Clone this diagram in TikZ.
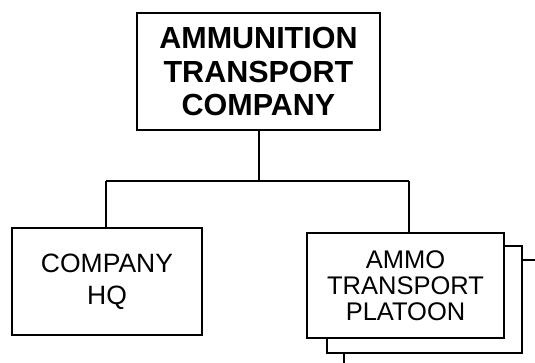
\documentclass[tikz,border=0pt]{standalone}
\usepackage{fontspec}
\setmainfont{Liberation Sans}
\begin{document}
\begin{tikzpicture}[x=1pt,y=-1pt,
  box/.style={draw=black, line width=2pt, fill=white, align=center, inner sep=0pt},
  conn/.style={draw=black, line width=2pt}]
\useasboundingbox (0,0) rectangle (535,363);
% top box
\node[box, minimum width=243pt, minimum height=117pt,
  font=\fontsize{30.5}{33.5}\selectfont\bfseries] (top) at (258.5,72)
  {AMMUNITION\\TRANSPORT\\COMPANY};
% company HQ
\node[box, minimum width=190pt, minimum height=107pt,
  font=\fontsize{26.5}{32}\selectfont] (hq) at (107,281.5)
  {COMPANY\\HQ};
% back platoon box
\node[box, minimum width=195pt, minimum height=107pt] (pltb) at (424.5,299.5) {};
% front platoon box
\node[box, minimum width=197pt, minimum height=105pt,
  font=\fontsize{25.5}{26}\selectfont] (plt) at (405.5,285.5)
  {AMMO\\TRANSPORT\\PLATOON};
% connectors
\coordinate (busL) at (106,181);
\coordinate (busR) at (409,181);
\coordinate (outR) at (535,260);
\coordinate (outB) at (344,363);
\draw[conn] (top.south) -- (top.south |- busL);
\draw[conn] (busL) -- (busR);
\draw[conn] (busL) -- (busL |- hq.north);
\draw[conn] (busR) -- (busR |- plt.north);
\draw[conn] (pltb.east |- outR) -- (outR);
\draw[conn] (pltb.south -| outB) -- (outB);
\end{tikzpicture}
\end{document}
